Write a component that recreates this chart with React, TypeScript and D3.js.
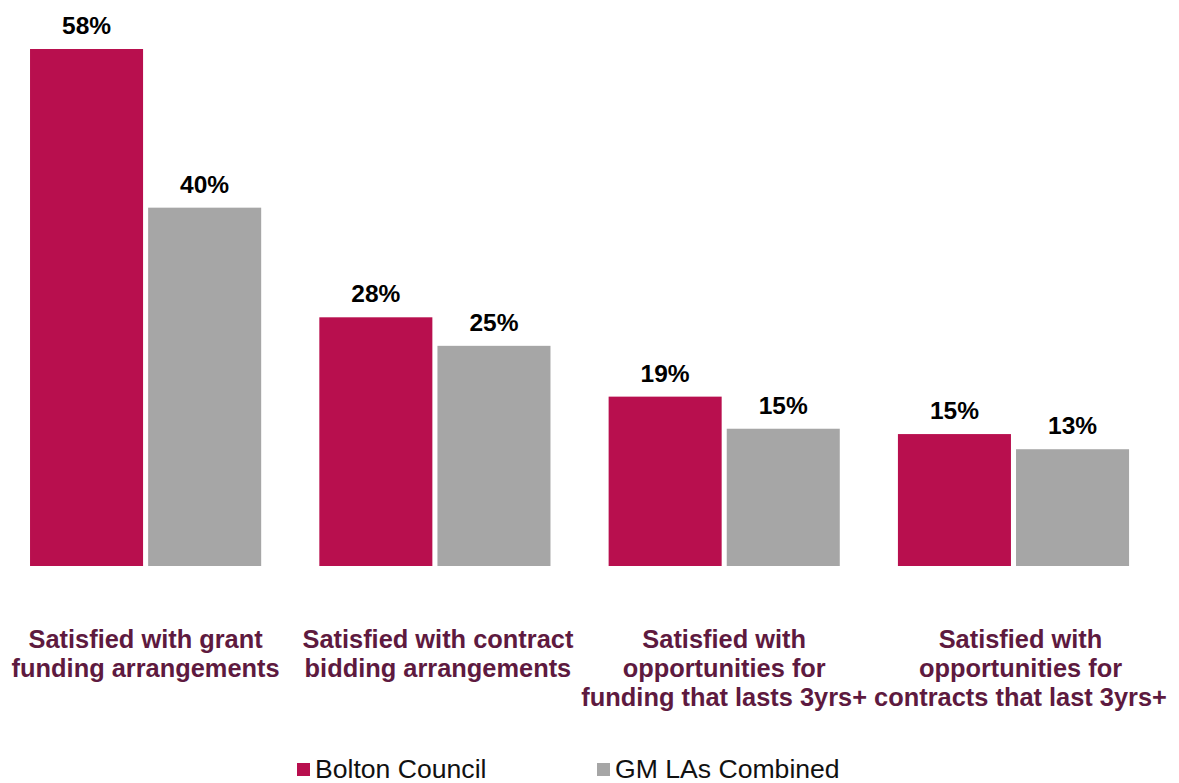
import React from "react";
import * as d3 from "d3";

const categories: string[][] = [
  ["Satisfied with grant", "funding arrangements"],
  ["Satisfied with contract", "bidding arrangements"],
  ["Satisfied with", "opportunities for", "funding that lasts 3yrs+"],
  ["Satisfied with", "opportunities for", "contracts that last 3yrs+"],
];
const seriesNames = ["Bolton Council", "GM LAs Combined"];
const boltonValues = [58, 27.9, 19, 14.8];
const gmValues = [40.2, 24.7, 15.4, 13.1];
const seriesColors = ["#B80F4E", "#A6A6A6"];

const W = 1179;
const H = 783;
const baseline = 566;
const topY = 49;
const labelShift = [0, 3, 0, 7];

export default function App() {
  const x0 = d3
    .scaleBand<number>()
    .domain(d3.range(categories.length))
    .range([1.1, 1158])
    .paddingInner(0.201)
    .paddingOuter(0.1);
  const x1 = d3
    .scaleBand<number>()
    .domain([0, 1])
    .range([0, x0.bandwidth()])
    .paddingInner(0.043);
  const y = d3.scaleLinear().domain([0, 58]).range([baseline, topY]);
  const fmt = (v: number) => d3.format(".0f")(v) + "%";
  const series = [boltonValues, gmValues];
  const font = "'Liberation Sans', Arial, sans-serif";

  return (
    <div style={{ position: "fixed", left: 0, top: 0 }}>
      <svg width={W} height={H} style={{ display: "block", fontFamily: font }}>
        <rect width={W} height={H} fill="#fff" />
        {categories.map((cat, i) => (
          <g key={i} transform={`translate(${x0(i)},0)`}>
            {series.map((vals, s) => {
              const bx = x1(s)!;
              const v = vals[i];
              return (
                <g key={s}>
                  <rect
                    x={bx}
                    y={y(v)}
                    width={x1.bandwidth()}
                    height={baseline - y(v)}
                    fill={seriesColors[s]}
                  />
                  <text
                    x={bx + x1.bandwidth() / 2}
                    y={y(v) - 15}
                    textAnchor="middle"
                    fontSize={24.5}
                    fontWeight="bold"
                    fill="#000"
                  >
                    {fmt(v)}
                  </text>
                </g>
              );
            })}
            {cat.map((line, li) => (
              <text
                key={li}
                x={x0.bandwidth() / 2 + labelShift[i]}
                y={648 + li * 29}
                textAnchor="middle"
                fontSize={25.4}
                fontWeight="bold"
                fill="#5E1A3F"
              >
                {line}
              </text>
            ))}
          </g>
        ))}
        {seriesNames.map((name, s) => {
          const lx = [297, 597][s];
          return (
            <g key={name}>
              <rect x={lx} y={763} width={13} height={13} fill={seriesColors[s]} />
              <text x={lx + 18} y={778} fontSize={26.6} fill="#111">
                {name}
              </text>
            </g>
          );
        })}
      </svg>
    </div>
  );
}
